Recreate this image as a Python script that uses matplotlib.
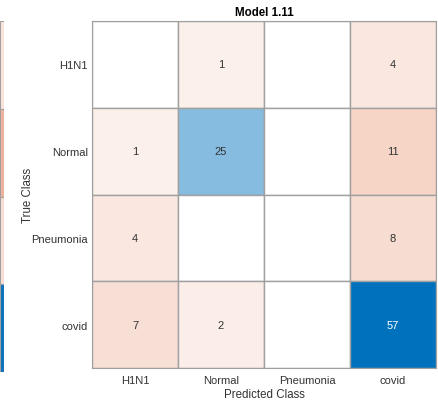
import numpy as np
import matplotlib
matplotlib.use("Agg")
import matplotlib.pyplot as plt
from matplotlib.patches import Rectangle

plt.rcParams['font.family'] = ['Liberation Sans', 'DejaVu Sans']

classes = ['H1N1', 'Normal', 'Pneumonia', 'covid']
counts = np.array([[0, 1, 0, 4],
                   [1, 25, 0, 11],
                   [4, 0, 0, 8],
                   [7, 2, 0, 57]])
title = 'Model 1.11'

# neighbouring chart's summary strip (only its edge is visible)
strip_colors = ['#fbe6dd', '#f2b49b', '#fadfd4', '#0a72bd']

diag_rgb = np.array([0.0, 0.4471, 0.7412])
off_rgb = np.array([0.851, 0.3255, 0.098])
grid_col = '#a0a0a0'


def cell_color(v, vmax, diag):
    if v == 0:
        return (1, 1, 1)
    a = 0.07 + 0.93 * v / vmax
    base = diag_rgb if diag else off_rgb
    return tuple(1 - a * (1 - base))


fig = plt.figure(figsize=(4.38, 4.14), dpi=100)

sx = fig.add_axes([0, 1 - 373 / 414, 3.5 / 438, 351 / 414])
for i, c in enumerate(strip_colors):
    sx.add_patch(Rectangle((0, 3 - i), 1, 1, facecolor=c, edgecolor=grid_col, lw=0.8))
sx.set_xlim(0, 1)
sx.set_ylim(0, 4)
sx.axis('off')

ax = fig.add_axes([92 / 438, 1 - 369 / 414, 344 / 438, 347 / 414])
n = len(classes)
vmax = counts.max()
for i in range(n):
    for j in range(n):
        v = counts[i, j]
        ax.add_patch(Rectangle((j, i), 1, 1, facecolor=cell_color(v, vmax, i == j),
                               edgecolor=grid_col, lw=1.0))
        if v:
            tc = 'white' if v / vmax > 0.6 else '#333333'
            ax.text(j + 0.5, i + 0.5, str(v), ha='center', va='center',
                    fontsize=8, color=tc)

ax.set_xlim(0, n)
ax.set_ylim(n, 0)
ax.set_xticks(np.arange(n) + 0.5)
ax.set_yticks(np.arange(n) + 0.5)
ax.set_xticklabels(classes, fontsize=8, color='#333333')
ax.set_yticklabels(classes, fontsize=8, color='#333333')
ax.tick_params(axis='x', length=0, pad=5)
ax.tick_params(axis='y', length=0, pad=3)
for s in ax.spines.values():
    s.set_color(grid_col)
ax.set_xlabel('Predicted Class', fontsize=8.3, color='#333333', labelpad=2)
ax.set_ylabel('True Class', fontsize=8.3, color='#333333', labelpad=-2)
ax.set_title(title, fontsize=8.3, fontweight='bold', pad=4)

fig.savefig('out.png', dpi=100)
